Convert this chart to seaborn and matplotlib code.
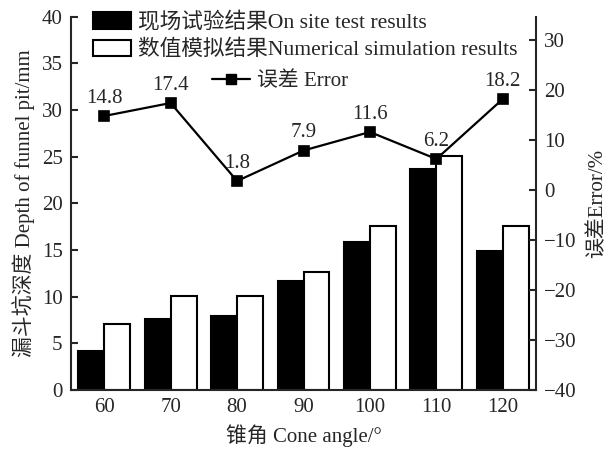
import numpy as np
import pandas as pd
import matplotlib
matplotlib.use("Agg")
import matplotlib.pyplot as plt
import seaborn as sns
from matplotlib.patches import Patch
from matplotlib.lines import Line2D

# ---------------------------------------------------------------
# data
# ---------------------------------------------------------------
cone_angles = ["60", "70", "80", "90", "100", "110", "120"]
site_depth = [4.2, 7.6, 7.9, 11.7, 15.9, 23.7, 14.9]
sim_depth = [7.1, 10.1, 10.1, 12.7, 17.6, 25.1, 17.6]
error_pct = [14.8, 17.4, 1.8, 7.9, 11.6, 6.2, 18.2]

SITE_LABEL = "现场试验结果On site test results"
SIM_LABEL = "数值模拟结果Numerical simulation results"
ERR_LABEL = "误差 Error"

FS = 15

sns.set_style("ticks")
plt.rcParams["font.family"] = ["Liberation Serif", "Noto Sans CJK SC"]
plt.rcParams["font.size"] = FS
plt.rcParams["axes.linewidth"] = 1.5

df = pd.DataFrame({
    "angle": cone_angles * 2,
    "depth": site_depth + sim_depth,
    "source": [SITE_LABEL] * len(cone_angles) + [SIM_LABEL] * len(cone_angles),
})

fig = plt.figure(figsize=(6.13, 4.53), dpi=100)
ax = fig.add_axes([71 / 613, 63 / 453, 465 / 613, 373.2 / 453])

sns.barplot(data=df, x="angle", y="depth", hue="source", order=cone_angles,
            palette=["black", "white"], edgecolor="black", linewidth=1.5,
            width=0.78, gap=0, ax=ax, legend=False)

ax2 = ax.twinx()
sns.pointplot(x=cone_angles, y=error_pct, order=cone_angles, color="black",
              marker="s", markersize=7, linewidth=1.6, errorbar=None, ax=ax2)

for i, v in enumerate(error_pct):
    ax2.annotate(f"{v}", (i, v), xytext=(0, 6), textcoords="offset points",
                 ha="center", va="bottom", fontsize=FS)

ax.set_xlim(-0.5, 6.5)
ax.set_ylim(0, 40)
ax.set_yticks(range(0, 41, 5))
ax2.set_ylim(-40, 34.64)
ax2.set_yticks(range(-40, 31, 10))

ax.set_xlabel("锥角 Cone angle/°", fontsize=FS, labelpad=5)
ax.set_ylabel("漏斗坑深度 Depth of funnel pit/mm", fontsize=FS, labelpad=5)
ax2.set_ylabel("误差Error/%", fontsize=FS, labelpad=8)
ax2.set_xlabel("")

ax.tick_params(axis="y", direction="in", length=5, width=1.5, pad=6, labelsize=FS)
ax.tick_params(axis="x", length=0, pad=6, labelsize=FS)
ax2.tick_params(axis="y", direction="in", length=5, width=1.5, pad=6, labelsize=FS)

ax.spines["top"].set_visible(False)
ax.spines["right"].set_visible(False)
ax2.spines["top"].set_visible(False)
ax2.spines["left"].set_visible(False)
ax2.spines["bottom"].set_visible(False)

bar_handles = [Patch(facecolor="black", edgecolor="black", linewidth=1.5),
               Patch(facecolor="white", edgecolor="black", linewidth=1.5)]
fig.legend(bar_handles, [SITE_LABEL, SIM_LABEL], loc="upper left",
           bbox_to_anchor=(93 / 613, 1 - 12 / 453), frameon=False, borderpad=0,
           borderaxespad=0, handlelength=1.75, handleheight=0.8, handletextpad=0.33,
           labelspacing=0.3, fontsize=15.6)

line_handle = [Line2D([], [], color="black", marker="s", markersize=7, linewidth=1.6)]
fig.legend(line_handle, [ERR_LABEL], loc="center left",
           bbox_to_anchor=(212 / 613, 1 - 81 / 453), frameon=False, borderpad=0,
           borderaxespad=0, handlelength=1.8, handletextpad=0.35, fontsize=FS)

fig.savefig("out.png", dpi=100)
